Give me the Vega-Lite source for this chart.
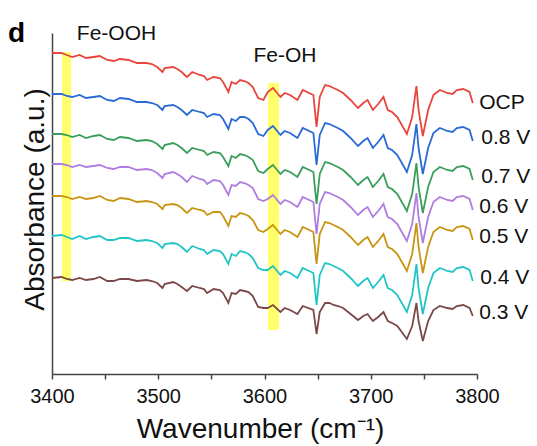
{
  "$schema": "https://vega.github.io/schema/vega-lite/v6.json",
  "width": 425,
  "height": 341,
  "autosize": {"type": "none"},
  "padding": {"left": 52, "top": 33, "right": 60, "bottom": 72},
  "background": "white",
  "config": {"view": {"stroke": null}},
  "datasets": {
    "spec": [
      {"w":3400,"OCP":321,"V08":280,"V07":240,"V06":210,"V05":178,"V04":138,"V03":96},
      {"w":3409,"OCP":321,"V08":280,"V07":240,"V06":210,"V05":178,"V04":139,"V03":97},
      {"w":3414,"OCP":319,"V08":278,"V07":239,"V06":209,"V05":177,"V04":137,"V03":95},
      {"w":3419,"OCP":317,"V08":277,"V07":237,"V06":207,"V05":175,"V04":135,"V03":94},
      {"w":3426,"OCP":319,"V08":279,"V07":239,"V06":209,"V05":177,"V04":138,"V03":96},
      {"w":3432,"OCP":316,"V08":276,"V07":236,"V06":207,"V05":175,"V04":135,"V03":94},
      {"w":3439,"OCP":317,"V08":277,"V07":238,"V06":208,"V05":176,"V04":137,"V03":95},
      {"w":3445,"OCP":318,"V08":278,"V07":239,"V06":209,"V05":178,"V04":138,"V03":97},
      {"w":3452,"OCP":314,"V08":274,"V07":235,"V06":206,"V05":174,"V04":134,"V03":93},
      {"w":3458,"OCP":313,"V08":273,"V07":234,"V06":205,"V05":173,"V04":134,"V03":93},
      {"w":3464,"OCP":315,"V08":276,"V07":237,"V06":207,"V05":176,"V04":136,"V03":95},
      {"w":3472,"OCP":314,"V08":275,"V07":236,"V06":207,"V05":175,"V04":136,"V03":95},
      {"w":3480,"OCP":311,"V08":272,"V07":233,"V06":204,"V05":172,"V04":133,"V03":93},
      {"w":3489,"OCP":311,"V08":272,"V07":234,"V06":205,"V05":173,"V04":134,"V03":94},
      {"w":3494,"OCP":310,"V08":271,"V07":233,"V06":204,"V05":172,"V04":133,"V03":93},
      {"w":3499,"OCP":307,"V08":269,"V07":230,"V06":201,"V05":170,"V04":131,"V03":91},
      {"w":3504,"OCP":302,"V08":264,"V07":225,"V06":196,"V05":165,"V04":126,"V03":86},
      {"w":3506,"OCP":306,"V08":268,"V07":229,"V06":200,"V05":169,"V04":130,"V03":90},
      {"w":3514,"OCP":307,"V08":269,"V07":231,"V06":202,"V05":170,"V04":131,"V03":92},
      {"w":3518,"OCP":305,"V08":267,"V07":229,"V06":200,"V05":169,"V04":130,"V03":90},
      {"w":3522,"OCP":302,"V08":264,"V07":226,"V06":197,"V05":166,"V04":127,"V03":87},
      {"w":3527,"OCP":297,"V08":259,"V07":221,"V06":192,"V05":161,"V04":122,"V03":83},
      {"w":3532,"OCP":302,"V08":264,"V07":226,"V06":198,"V05":166,"V04":128,"V03":88},
      {"w":3539,"OCP":299,"V08":262,"V07":224,"V06":195,"V05":164,"V04":125,"V03":86},
      {"w":3543,"OCP":298,"V08":261,"V07":223,"V06":194,"V05":163,"V04":124,"V03":85},
      {"w":3546,"OCP":294,"V08":257,"V07":219,"V06":190,"V05":159,"V04":120,"V03":81},
      {"w":3552,"OCP":297,"V08":260,"V07":222,"V06":194,"V05":162,"V04":124,"V03":85},
      {"w":3558,"OCP":296,"V08":259,"V07":221,"V06":193,"V05":162,"V04":123,"V03":84},
      {"w":3561,"OCP":292,"V08":255,"V07":217,"V06":189,"V05":158,"V04":120,"V03":81},
      {"w":3566,"OCP":282,"V08":245,"V07":208,"V06":179,"V05":148,"V04":110,"V03":71},
      {"w":3569,"OCP":292,"V08":255,"V07":218,"V06":189,"V05":158,"V04":120,"V03":81},
      {"w":3573,"OCP":290,"V08":253,"V07":216,"V06":188,"V05":157,"V04":118,"V03":80},
      {"w":3577,"OCP":294,"V08":257,"V07":220,"V06":192,"V05":161,"V04":123,"V03":84},
      {"w":3581,"OCP":293,"V08":257,"V07":219,"V06":191,"V05":160,"V04":122,"V03":83},
      {"w":3585,"OCP":291,"V08":255,"V07":217,"V06":189,"V05":158,"V04":120,"V03":82},
      {"w":3589,"OCP":287,"V08":251,"V07":214,"V06":186,"V05":154,"V04":116,"V03":78},
      {"w":3594,"OCP":276,"V08":240,"V07":203,"V06":175,"V05":144,"V04":106,"V03":67},
      {"w":3599,"OCP":274,"V08":238,"V07":201,"V06":173,"V05":142,"V04":104,"V03":66},
      {"w":3603,"OCP":282,"V08":244,"V07":205,"V06":175,"V05":145,"V04":104,"V03":66},
      {"w":3608,"OCP":286,"V08":248,"V07":209,"V06":179,"V05":149,"V04":108,"V03":69},
      {"w":3615,"OCP":277,"V08":239,"V07":200,"V06":170,"V05":140,"V04":99,"V03":62},
      {"w":3619,"OCP":281,"V08":243,"V07":204,"V06":174,"V05":144,"V04":103,"V03":66},
      {"w":3624,"OCP":279,"V08":241,"V07":202,"V06":172,"V05":142,"V04":101,"V03":64},
      {"w":3631,"OCP":274,"V08":236,"V07":197,"V06":167,"V05":137,"V04":96,"V03":60},
      {"w":3636,"OCP":284,"V08":246,"V07":207,"V06":177,"V05":147,"V04":106,"V03":68},
      {"w":3646,"OCP":279,"V08":241,"V07":202,"V06":172,"V05":142,"V04":101,"V03":64},
      {"w":3649,"OCP":247,"V08":209,"V07":170,"V06":140,"V05":110,"V04":69,"V03":40},
      {"w":3652,"OCP":277,"V08":239,"V07":200,"V06":170,"V05":140,"V04":99,"V03":62},
      {"w":3657,"OCP":289,"V08":251,"V07":212,"V06":182,"V05":152,"V04":111,"V03":71},
      {"w":3661,"OCP":288,"V08":250,"V07":211,"V06":181,"V05":151,"V04":110,"V03":71},
      {"w":3665,"OCP":286,"V08":248,"V07":209,"V06":179,"V05":149,"V04":108,"V03":69},
      {"w":3669,"OCP":284,"V08":246,"V07":207,"V06":177,"V05":147,"V04":106,"V03":68},
      {"w":3674,"OCP":281,"V08":243,"V07":204,"V06":174,"V05":144,"V04":103,"V03":66},
      {"w":3681,"OCP":274,"V08":236,"V07":197,"V06":167,"V05":137,"V04":96,"V03":60},
      {"w":3688,"OCP":266,"V08":228,"V07":189,"V06":159,"V05":129,"V04":88,"V03":54},
      {"w":3693,"OCP":271,"V08":233,"V07":194,"V06":164,"V05":134,"V04":93,"V03":58},
      {"w":3697,"OCP":274,"V08":236,"V07":197,"V06":167,"V05":137,"V04":96,"V03":60},
      {"w":3702,"OCP":264,"V08":226,"V07":187,"V06":157,"V05":127,"V04":86,"V03":53},
      {"w":3707,"OCP":270,"V08":232,"V07":193,"V06":163,"V05":133,"V04":92,"V03":57},
      {"w":3712,"OCP":277,"V08":239,"V07":200,"V06":170,"V05":140,"V04":99,"V03":62},
      {"w":3716,"OCP":264,"V08":226,"V07":187,"V06":157,"V05":127,"V04":86,"V03":53},
      {"w":3720,"OCP":262,"V08":224,"V07":185,"V06":155,"V05":125,"V04":84,"V03":51},
      {"w":3725,"OCP":257,"V08":219,"V07":180,"V06":150,"V05":120,"V04":79,"V03":48},
      {"w":3734,"OCP":240,"V08":202,"V07":163,"V06":133,"V05":103,"V04":62,"V03":35},
      {"w":3739,"OCP":257,"V08":219,"V07":180,"V06":150,"V05":120,"V04":79,"V03":48},
      {"w":3743,"OCP":288,"V08":250,"V07":211,"V06":181,"V05":151,"V04":110,"V03":71},
      {"w":3745,"OCP":264,"V08":226,"V07":187,"V06":157,"V05":127,"V04":86,"V03":53},
      {"w":3749,"OCP":238,"V08":200,"V07":161,"V06":131,"V05":101,"V04":60,"V03":33},
      {"w":3754,"OCP":264,"V08":226,"V07":187,"V06":157,"V05":127,"V04":86,"V03":53},
      {"w":3759,"OCP":279,"V08":241,"V07":202,"V06":172,"V05":142,"V04":101,"V03":64},
      {"w":3765,"OCP":284,"V08":246,"V07":207,"V06":177,"V05":147,"V04":106,"V03":68},
      {"w":3772,"OCP":281,"V08":243,"V07":204,"V06":174,"V05":144,"V04":103,"V03":66},
      {"w":3777,"OCP":280,"V08":242,"V07":203,"V06":173,"V05":143,"V04":102,"V03":65},
      {"w":3781,"OCP":284,"V08":246,"V07":207,"V06":177,"V05":147,"V04":106,"V03":68},
      {"w":3787,"OCP":285,"V08":247,"V07":208,"V06":178,"V05":148,"V04":107,"V03":69},
      {"w":3793,"OCP":282,"V08":244,"V07":205,"V06":175,"V05":145,"V04":104,"V03":66},
      {"w":3796,"OCP":271,"V08":233,"V07":194,"V06":164,"V05":134,"V04":93,"V03":58}
    ],
    "bands": [
      {"name":"Fe-OOH","w":3409.4,"w2":3417.9,"v":93,"v2":322},
      {"name":"Fe-OH","w":3603.3,"w2":3613.6,"v":44,"v2":291}
    ],
    "serieslabels": [
      {"text":"OCP","w":3802,"v":265},
      {"text":"0.8 V","w":3804,"v":230},
      {"text":"0.7 V","w":3804,"v":191},
      {"text":"0.6 V","w":3802,"v":161},
      {"text":"0.5 V","w":3802,"v":131},
      {"text":"0.4 V","w":3803,"v":90},
      {"text":"0.3 V","w":3802,"v":55}
    ],
    "annotations": [
      {"text":"Fe-OOH","w":3460.7,"v":334},
      {"text":"Fe-OH","w":3619.3,"v":312}
    ],
    "panel": [
      {"text":"d","w":3358.6,"v":332}
    ]
  },
  "layer": [
    {
      "data": {"name": "bands"},
      "mark": {"type": "rect", "color": "#ffff5c", "opacity": 0.9},
      "encoding": {
        "x": {
          "field": "w", "type": "quantitative",
          "scale": {"domain": [3400, 3800], "nice": false, "zero": false},
          "axis": {
            "values": [3400,3450,3500,3550,3600,3650,3700,3750,3800],
            "format": "d",
            "labelExpr": "datum.value % 100 === 0 ? datum.label : ''",
            "grid": false,
            "domainColor": "#444", "domainWidth": 1.5,
            "tickColor": "#444", "tickWidth": 1.5, "tickSize": 5,
            "labelFont": "Liberation Sans", "labelFontSize": 20, "labelColor": "#111",
            "labelBaseline": "alphabetic", "labelPadding": 23, "labelFlush": false,
            "titleFont": "Liberation Sans", "titleFontSize": 28, "titleFontWeight": "normal", "titleColor": "#111",
            "titleBaseline": "alphabetic", "titleX": 208, "titleY": 63, "titleAlign": "center"
          },
          "title": "Wavenumber (cm⁻¹)"
        },
        "x2": {"field": "w2"},
        "y": {
          "field": "v", "type": "quantitative",
          "scale": {"domain": [0, 341], "nice": false, "zero": false},
          "axis": {
            "labels": false, "ticks": false, "grid": false,
            "domainColor": "#444", "domainWidth": 1.5,
            "titleFont": "Liberation Sans", "titleFontSize": 28, "titleFontWeight": "normal", "titleColor": "#111",
            "titleAngle": -90, "titleBaseline": "alphabetic", "titleX": -9, "titleY": 166, "titleAlign": "center"
          },
          "title": "Absorbance (a.u.)"
        },
        "y2": {"field": "v2"}
      }
    },
    {
      "data": {"name": "spec"},
      "transform": [{"fold": ["OCP","V08","V07","V06","V05","V04","V03"], "as": ["series","v"]}],
      "mark": {"type": "line", "strokeWidth": 1.8, "interpolate": "linear"},
      "encoding": {
        "x": {"field": "w", "type": "quantitative", "title": "Wavenumber (cm⁻¹)"},
        "y": {"field": "v", "type": "quantitative", "title": "Absorbance (a.u.)"},
        "color": {
          "field": "series", "type": "nominal", "legend": null,
          "scale": {
            "domain": ["OCP","V08","V07","V06","V05","V04","V03"],
            "range": ["#e8453c","#2a6ad6","#3a9e5c","#b07ce0","#c89512","#22c5c5","#7a4848"]
          }
        }
      }
    },
    {
      "data": {"name": "serieslabels"},
      "mark": {"type": "text", "align": "left", "baseline": "alphabetic", "font": "Liberation Sans", "fontSize": 21, "color": "#111"},
      "encoding": {
        "x": {"field": "w", "type": "quantitative", "title": "Wavenumber (cm⁻¹)"},
        "y": {"field": "v", "type": "quantitative", "title": "Absorbance (a.u.)"},
        "text": {"field": "text"}
      }
    },
    {
      "data": {"name": "annotations"},
      "mark": {"type": "text", "align": "center", "baseline": "alphabetic", "font": "Liberation Sans", "fontSize": 21, "color": "#111"},
      "encoding": {
        "x": {"field": "w", "type": "quantitative", "title": "Wavenumber (cm⁻¹)"},
        "y": {"field": "v", "type": "quantitative", "title": "Absorbance (a.u.)"},
        "text": {"field": "text"}
      }
    },
    {
      "data": {"name": "panel"},
      "mark": {"type": "text", "align": "left", "baseline": "alphabetic", "font": "Liberation Sans", "fontSize": 28, "fontWeight": "bold", "color": "#000"},
      "encoding": {
        "x": {"field": "w", "type": "quantitative", "title": "Wavenumber (cm⁻¹)"},
        "y": {"field": "v", "type": "quantitative", "title": "Absorbance (a.u.)"},
        "text": {"field": "text"}
      }
    }
  ]
}
